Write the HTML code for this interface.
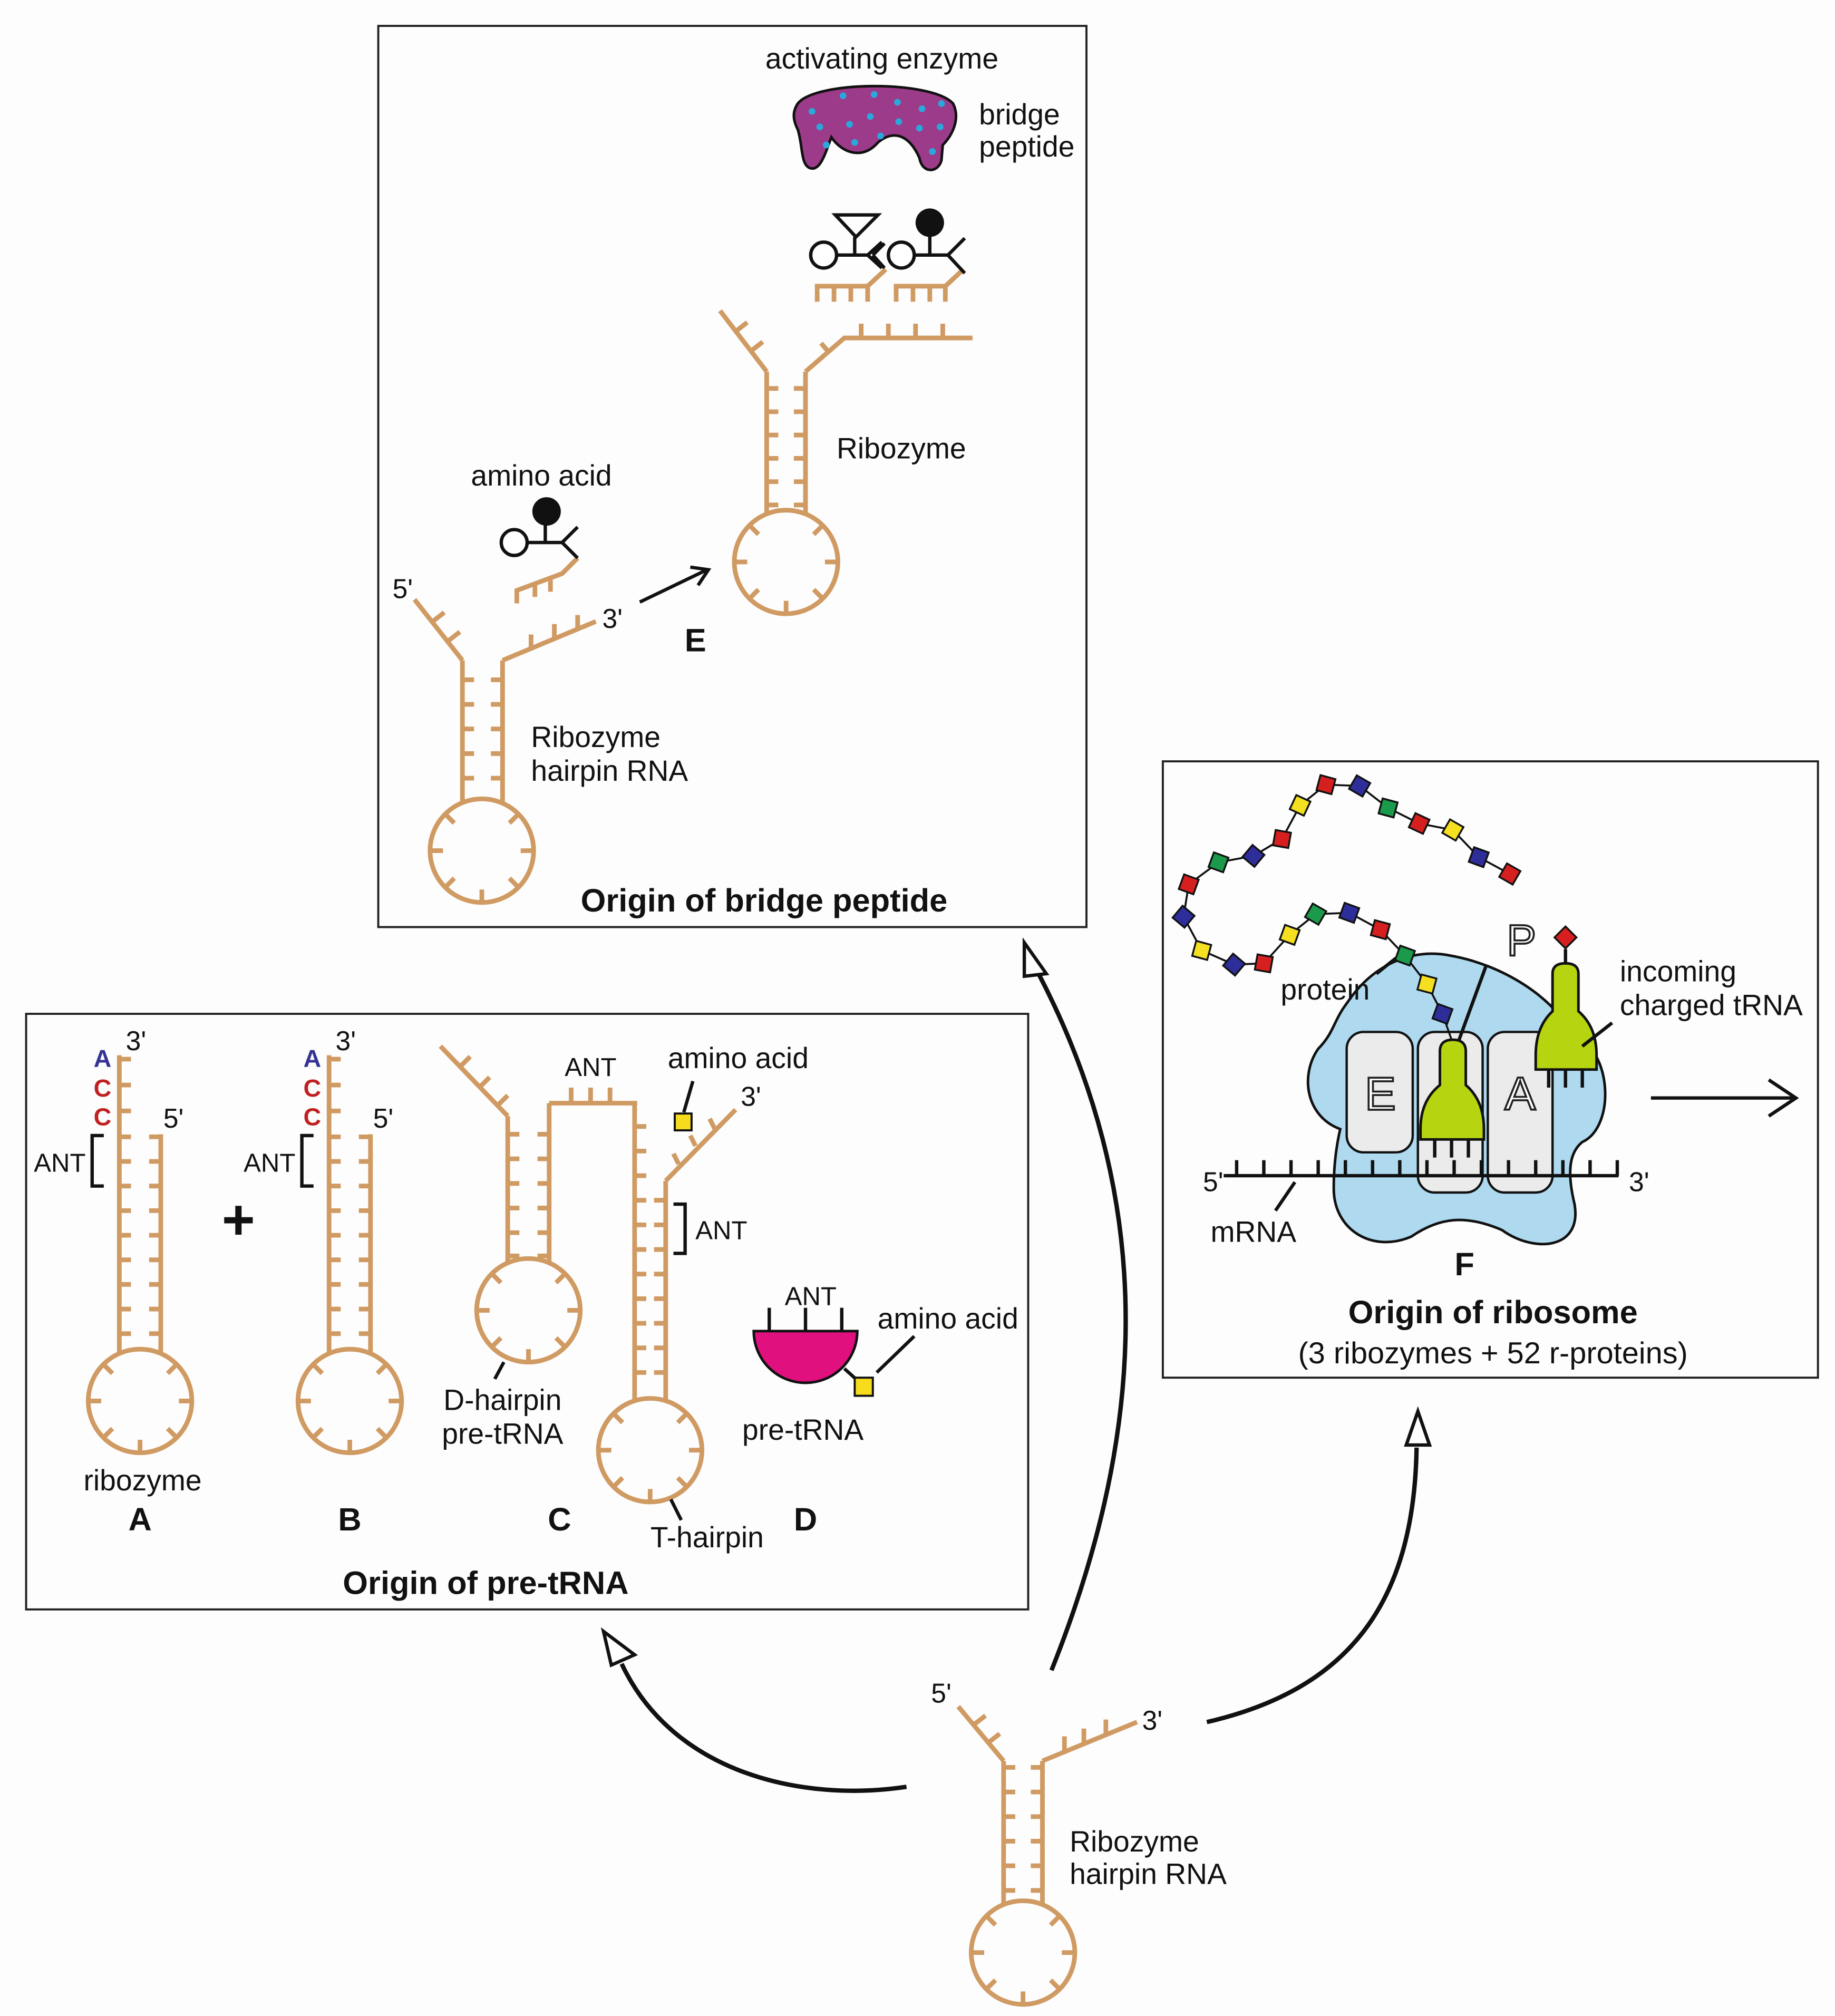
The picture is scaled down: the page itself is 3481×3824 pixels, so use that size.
<!DOCTYPE html>
<html><head><meta charset="utf-8"><style>
html,body{margin:0;padding:0;background:#fdfdfd}
svg{display:block}
text{font-family:"Liberation Sans",Arial,sans-serif;fill:#111}
.t{stroke:#d09a63;stroke-width:3.6;fill:none;stroke-linecap:butt}
.k{stroke:#111;stroke-width:2.6;fill:none}
.b{font-weight:bold}
</style></head><body>
<svg width="3481" height="3824" viewBox="0 0 1417 1557" xmlns="http://www.w3.org/2000/svg">
<defs>
<g id="lp">
<circle r="40" class="t"/>
<path class="t" d="M40,0h-10M-40,0h10M0,40v-10M28.3,28.3l-7,-7M-28.3,28.3l7,-7M28.3,-28.3l-7,7M-28.3,-28.3l7,7"/>
</g>
</defs>
<rect width="1417" height="1557" fill="#fdfdfd"/>

<rect x="292" y="20" width="547" height="696" fill="none" stroke="#222" stroke-width="1.6"/>
<rect x="20" y="783" width="774" height="460" fill="none" stroke="#222" stroke-width="1.6"/>
<rect x="898" y="588" width="506" height="476" fill="none" stroke="#222" stroke-width="1.6"/>

<!-- ===== Panel E ===== -->
<text x="681" y="53" font-size="22.5" text-anchor="middle">activating enzyme</text>
<path d="M616,80 C630,62 720,62 736,80 C742,92 735,105 728,112 L727,124 C724,134 712,134 710,122 C702,104 690,100 678,110 C666,124 650,118 642,106 C638,116 634,132 626,130 C618,128 620,112 616,100 C612,92 612,86 616,80Z" fill="#9b3b89" stroke="#111" stroke-width="2"/>
<g fill="#2aa8dc"><circle cx="627" cy="86" r="2.6"/><circle cx="651" cy="74" r="2.6"/><circle cx="675" cy="73" r="2.6"/><circle cx="693" cy="79" r="2.6"/><circle cx="712" cy="84" r="2.6"/><circle cx="727" cy="80" r="2.6"/><circle cx="633" cy="98" r="2.6"/><circle cx="656" cy="96" r="2.6"/><circle cx="672" cy="90" r="2.6"/><circle cx="694" cy="94" r="2.6"/><circle cx="710" cy="99" r="2.6"/><circle cx="726" cy="98" r="2.6"/><circle cx="638" cy="112" r="2.6"/><circle cx="660" cy="110" r="2.6"/><circle cx="680" cy="105" r="2.6"/><circle cx="720" cy="117" r="2.6"/></g>
<text x="756" y="96" font-size="22.5">bridge</text>
<text x="756" y="121" font-size="22.5">peptide</text>

<path class="t" d="M631,233 V221 H670 L684,208 M644,221v12 M657,221v12 M670,221v12"/>
<path class="t" d="M692,233 V221 H730 L744,208 M705,221v12 M718,221v12 M730,221v12"/>
<circle cx="636" cy="197" r="10" fill="#fff" stroke="#111" stroke-width="2.6"/>
<path class="k" d="M646,197 H670 M660,197 V183 M645,166 H678 L661,183 Z M670,197 L681,187 M670,197 L681,207 M674,197 L683,188 M674,197 L683,207"/>
<circle cx="696" cy="197" r="10" fill="#fff" stroke="#111" stroke-width="2.6"/>
<path class="k" d="M706,197 H732 M718,197 V180 M732,197 L745,184 M732,197 L745,211"/>
<circle cx="718" cy="172" r="11" fill="#111"/>

<path class="t" d="M592,287 V397 M622,287 V397 M592,300h9 M592,318h9 M592,336h9 M592,354h9 M592,372h9 M592,390h9 M622,300h-9 M622,318h-9 M622,336h-9 M622,354h-9 M622,372h-9 M622,390h-9"/>
<use href="#lp" x="607" y="434"/>
<path class="t" d="M592,287 L556,240 M580,271 l9,-7 M568,256 l9,-7"/>
<path class="t" d="M622,287 L652,261 H751 M640,272 l-6,-7 M665,261v-11 M686,261v-11 M707,261v-11 M728,261v-11"/>
<text x="646" y="354" font-size="22.5">Ribozyme</text>

<path class="t" d="M357,510 V620 M388,510 V620 M357,525h9 M357,544h9 M357,563h9 M357,582h9 M357,601h9 M388,525h-9 M388,544h-9 M388,563h-9 M388,582h-9 M388,601h-9"/>
<use href="#lp" x="372" y="657"/>
<path class="t" d="M357,510 L320,463 M346,495 l9,-7 M334,480 l9,-7"/>
<path class="t" d="M388,510 L460,480 M410,501v-11 M428,493v-11 M446,486v-11"/>
<path class="t" d="M399,466 V456 L434,443 L446,431 M413,451v10 M425,447v10"/>
<circle cx="397" cy="419" r="10" fill="#fff" stroke="#111" stroke-width="2.6"/>
<path class="k" d="M407,419 H434 M421,419 V404 M434,419 L446,407 M434,419 L446,431"/>
<circle cx="422" cy="395" r="11" fill="#111"/>
<text x="418" y="375" font-size="22.5" text-anchor="middle">amino acid</text>
<text x="303" y="462" font-size="21">5'</text>
<text x="465" y="485" font-size="21">3'</text>
<path class="k" d="M494,465 L546,440 M533,438 L547,440 L539,452"/>
<text x="537" y="503" font-size="25" class="b" text-anchor="middle">E</text>
<text x="410" y="577" font-size="22.5">Ribozyme</text>
<text x="410" y="603" font-size="22.5">hairpin RNA</text>
<text x="590" y="704" font-size="25" class="b" text-anchor="middle">Origin of bridge peptide</text>

<!-- ===== Panel pre-tRNA ===== -->
<g id="hA">
<path class="t" d="M92,815 V1046 M124,876 V1046 M92,818h9 M92,838h9 M92,858h9 M92,878h9 M92,897h9 M92,916h9 M92,935h9 M92,954h9 M92,973h9 M92,992h9 M92,1011h9 M92,1030h9 M124,878h-9 M124,897h-9 M124,916h-9 M124,935h-9 M124,954h-9 M124,973h-9 M124,992h-9 M124,1011h-9 M124,1030h-9"/>
<use href="#lp" x="108" y="1082"/>
<text x="79" y="824" font-size="19" class="b" text-anchor="middle" style="fill:#343393">A</text>
<text x="79" y="847" font-size="19" class="b" text-anchor="middle" style="fill:#c02020">C</text>
<text x="79" y="869" font-size="19" class="b" text-anchor="middle" style="fill:#c02020">C</text>
<text x="97" y="811" font-size="21">3'</text>
<text x="126" y="871" font-size="21">5'</text>
<path class="k" d="M80,877 H71 V916 H80"/>
<text x="26" y="905" font-size="20">ANT</text>
</g>
<use href="#hA" x="162"/>
<text x="110" y="1151" font-size="22.5" text-anchor="middle">ribozyme</text>
<text x="108" y="1182" font-size="25" class="b" text-anchor="middle">A</text>
<text x="270" y="1182" font-size="25" class="b" text-anchor="middle">B</text>
<text x="184" y="957" font-size="44" class="b" text-anchor="middle">+</text>

<path class="t" d="M340,808 L392,862 M355,824 l8,-8 M370,840 l8,-8 M384,854 l8,-8"/>
<path class="t" d="M392,862 V976 M424,852 V976 M392,876h9 M392,895h9 M392,914h9 M392,933h9 M392,952h9 M392,970h9 M424,876h-9 M424,895h-9 M424,914h-9 M424,933h-9 M424,952h-9 M424,970h-9"/>
<use href="#lp" x="408" y="1012"/>
<path class="t" d="M424,852 H492 M441,852v-12 M456,852v-12 M471,852v-12"/>
<text x="456" y="831" font-size="20" text-anchor="middle">ANT</text>
<path class="t" d="M490,852 V1083 M514,912 V1083 M490,870h9 M490,889h9 M490,908h9 M490,927h9 M490,946h9 M490,965h9 M490,984h9 M490,1003h9 M490,1022h9 M490,1041h9 M490,1060h9 M514,927h-9 M514,946h-9 M514,965h-9 M514,984h-9 M514,1003h-9 M514,1022h-9 M514,1041h-9 M514,1060h-9"/>
<use href="#lp" x="502" y="1120"/>
<path class="t" d="M514,912 L568,857 M524,899 l-4,-8 M537,885 l-4,-8 M552,872 l-4,-8"/>
<rect x="521" y="860" width="13" height="13" fill="#f7dc1e" stroke="#111" stroke-width="1.6"/>
<path class="k" d="M528,859 L535,835" stroke-width="1.3"/>
<text x="570" y="825" font-size="22.5" text-anchor="middle">amino acid</text>
<text x="572" y="854" font-size="21">3'</text>
<path class="k" d="M520,930 H529 V968 H520"/>
<text x="537" y="957" font-size="20">ANT</text>
<path class="k" d="M389,1052 L382,1065" stroke-width="1.3"/>
<text x="388" y="1089" font-size="22.5" text-anchor="middle">D-hairpin</text>
<text x="388" y="1115" font-size="22.5" text-anchor="middle">pre-tRNA</text>
<path class="k" d="M518,1158 L526,1174" stroke-width="1.3"/>
<text x="546" y="1195" font-size="22.5" text-anchor="middle">T-hairpin</text>
<text x="432" y="1182" font-size="25" class="b" text-anchor="middle">C</text>

<path d="M582,1028 H662 A40,40 0 0 1 582,1028 Z" fill="#e0107e" stroke="#111" stroke-width="2"/>
<path class="k" d="M594,1028 V1010 M622,1028 V1010 M650,1028 V1010" stroke-width="2"/>
<text x="626" y="1008" font-size="20" text-anchor="middle">ANT</text>
<path class="k" d="M652,1057 L662,1066" stroke-width="1.6"/>
<rect x="660" y="1064" width="14" height="14" fill="#f7dc1e" stroke="#111" stroke-width="1.6"/>
<path class="k" d="M677,1060 L706,1032" stroke-width="1.3"/>
<text x="732" y="1026" font-size="22.5" text-anchor="middle">amino acid</text>
<text x="620" y="1112" font-size="22.5" text-anchor="middle">pre-tRNA</text>
<text x="622" y="1182" font-size="25" class="b" text-anchor="middle">D</text>
<text x="375" y="1231" font-size="25" class="b" text-anchor="middle">Origin of pre-tRNA</text>

<!-- ===== Panel F ===== -->
<path d="M1040,775 C1060,745 1090,732 1120,738 C1160,745 1200,770 1215,800 C1245,810 1248,870 1222,882 C1212,890 1210,905 1216,930 C1222,965 1185,968 1160,950 C1132,938 1112,940 1090,955 C1060,968 1030,950 1030,918 C1030,900 1032,885 1035,872 C1008,862 1004,830 1018,810 C1030,798 1030,788 1040,775Z" fill="#aed9ef" stroke="#111" stroke-width="2"/>
<rect x="1040" y="797" width="51" height="93" rx="13" fill="#ebebeb" stroke="#111" stroke-width="1.8"/>
<rect x="1095" y="797" width="50" height="124" rx="13" fill="#ebebeb" stroke="#111" stroke-width="1.8"/>
<rect x="1149" y="797" width="50" height="124" rx="13" fill="#ebebeb" stroke="#111" stroke-width="1.8"/>
<text x="1066" y="857" font-size="36" text-anchor="middle" style="fill:#fff;stroke:#222;stroke-width:1.5">E</text>
<text x="1174" y="857" font-size="36" text-anchor="middle" style="fill:#fff;stroke:#222;stroke-width:1.5">A</text>
<text x="1175" y="738" font-size="34" text-anchor="middle" style="fill:#fff;stroke:#222;stroke-width:1.5">P</text>
<path class="k" d="M1148,745 L1125,808" stroke-width="1.3"/>
<path class="k" d="M945,908 H1250 M955,908v-12 M976,908v-12 M997,908v-12 M1018,908v-12 M1039,908v-12 M1060,908v-12 M1081,908v-12 M1102,908v-12 M1123,908v-12 M1144,908v-12 M1165,908v-12 M1186,908v-12 M1207,908v-12 M1228,908v-12 M1249,908v-12" stroke-width="1.8"/>
<text x="929" y="920" font-size="21">5'</text>
<text x="1258" y="920" font-size="21">3'</text>
<path class="k" d="M1000,913 L985,935" stroke-width="1.3"/>
<text x="968" y="959" font-size="22.5" text-anchor="middle">mRNA</text>
<path d="M1112,812 Q1112,803 1122,803 Q1132,803 1132,812 V838 Q1146,850 1146,872 V880 H1097 V872 Q1097,850 1112,838 Z" fill="#b6d40f" stroke="#111" stroke-width="2"/>
<path class="k" d="M1108,880 V894 M1121,880 V894 M1134,880 V894" stroke-width="1.6"/>
<path d="M1199,752 Q1199,744 1209,744 Q1219,744 1219,752 V781 Q1233,793 1233,815 V826 H1186 V815 Q1186,793 1199,781 Z" fill="#b6d40f" stroke="#111" stroke-width="2"/>
<path class="k" d="M1196,826 V840 M1209,826 V840 M1222,826 V840 M1209,744 V733" stroke-width="1.6"/>
<rect x="1203" y="718" width="12" height="12" fill="#d62020" stroke="#111" stroke-width="1.4" transform="rotate(45 1209 724)"/>
<text x="1251" y="758" font-size="22.5">incoming</text>
<text x="1251" y="784" font-size="22.5">charged tRNA</text>
<path class="k" d="M1245,790 L1222,808" stroke-width="1.3"/>
<polyline fill="none" stroke="#111" stroke-width="1.5" points="1166,675 1142,662 1122,641 1096,636 1072,624 1050,607 1024,606 1004,622 990,648 968,661 941,666 918,683 914,708 928,734 953,745 976,744 996,722 1016,706 1042,705 1066,718 1085,738 1102,760 1114,783 1121,803"/>
<g stroke="#111" stroke-width="1.4">
<rect x="1160" y="669" width="12" height="12" fill="#d62020" transform="rotate(30 1166 675)"/>
<rect x="1136" y="656" width="12" height="12" fill="#2e2e9a" transform="rotate(20 1142 662)"/>
<rect x="1116" y="635" width="12" height="12" fill="#f4e020" transform="rotate(30 1122 641)"/>
<rect x="1090" y="630" width="12" height="12" fill="#d62020" transform="rotate(25 1096 636)"/>
<rect x="1066" y="618" width="12" height="12" fill="#1a9a4a" transform="rotate(15 1072 624)"/>
<rect x="1044" y="601" width="12" height="12" fill="#2e2e9a" transform="rotate(30 1050 607)"/>
<rect x="1018" y="600" width="12" height="12" fill="#d62020" transform="rotate(15 1024 606)"/>
<rect x="998" y="616" width="12" height="12" fill="#f4e020" transform="rotate(25 1004 622)"/>
<rect x="984" y="642" width="12" height="12" fill="#d62020" transform="rotate(10 990 648)"/>
<rect x="962" y="655" width="12" height="12" fill="#2e2e9a" transform="rotate(40 968 661)"/>
<rect x="935" y="660" width="12" height="12" fill="#1a9a4a" transform="rotate(20 941 666)"/>
<rect x="912" y="677" width="12" height="12" fill="#d62020" transform="rotate(20 918 683)"/>
<rect x="908" y="702" width="12" height="12" fill="#2e2e9a" transform="rotate(40 914 708)"/>
<rect x="922" y="728" width="12" height="12" fill="#f4e020" transform="rotate(15 928 734)"/>
<rect x="947" y="739" width="12" height="12" fill="#2e2e9a" transform="rotate(40 953 745)"/>
<rect x="970" y="738" width="12" height="12" fill="#d62020" transform="rotate(10 976 744)"/>
<rect x="990" y="716" width="12" height="12" fill="#f4e020" transform="rotate(20 996 722)"/>
<rect x="1010" y="700" width="12" height="12" fill="#1a9a4a" transform="rotate(30 1016 706)"/>
<rect x="1036" y="699" width="12" height="12" fill="#2e2e9a" transform="rotate(20 1042 705)"/>
<rect x="1060" y="712" width="12" height="12" fill="#d62020" transform="rotate(15 1066 718)"/>
<rect x="1079" y="732" width="12" height="12" fill="#1a9a4a" transform="rotate(20 1085 738)"/>
<rect x="1096" y="754" width="12" height="12" fill="#f4e020" transform="rotate(15 1102 760)"/>
<rect x="1108" y="777" width="12" height="12" fill="#2e2e9a" transform="rotate(20 1114 783)"/>
</g>
<path class="k" d="M1063,752 L1078,740" stroke-width="1.3"/>
<text x="989" y="772" font-size="22.5">protein</text>
<path class="k" d="M1275,848 H1386 M1366,834 L1387,848 L1366,862" stroke-width="3.4"/>
<text x="1131" y="985" font-size="25" class="b" text-anchor="middle">F</text>
<text x="1153" y="1022" font-size="25" class="b" text-anchor="middle">Origin of ribosome</text>
<text x="1153" y="1053" font-size="23.5" text-anchor="middle">(3 ribozymes + 52 r-proteins)</text>

<!-- ===== Bottom hairpin ===== -->
<path class="t" d="M775,1360 V1472 M805,1360 V1472 M775,1365h9 M775,1384h9 M775,1403h9 M775,1422h9 M775,1441h9 M775,1460h9 M805,1365h-9 M805,1384h-9 M805,1403h-9 M805,1422h-9 M805,1441h-9 M805,1460h-9"/>
<use href="#lp" x="790" y="1508"/>
<path class="t" d="M775,1360 L740,1318 M752,1332 l9,-7 M763,1346 l9,-7"/>
<path class="t" d="M805,1360 L878,1330 M822,1353v-12 M837,1347v-12 M854,1340v-12"/>
<text x="719" y="1315" font-size="21">5'</text>
<text x="882" y="1336" font-size="21">3'</text>
<text x="826" y="1430" font-size="22.5">Ribozyme</text>
<text x="826" y="1455" font-size="22.5">hairpin RNA</text>

<path d="M700,1380 C620,1392 520,1370 480,1285" fill="none" stroke="#111" stroke-width="3.4"/>
<path d="M466,1260 L490,1278 L472,1286 Z" fill="#fff" stroke="#111" stroke-width="2.6"/>
<path d="M812,1290 C880,1120 900,940 802,752" fill="none" stroke="#111" stroke-width="3.4"/>
<path d="M791,728 L808,752 L791,754 Z" fill="#fff" stroke="#111" stroke-width="2.6"/>
<path d="M932,1330 C1040,1305 1092,1240 1094,1118" fill="none" stroke="#111" stroke-width="3.4"/>
<path d="M1095,1090 L1104,1116 L1086,1116 Z" fill="#fff" stroke="#111" stroke-width="2.6"/>
</svg>
</body></html>
